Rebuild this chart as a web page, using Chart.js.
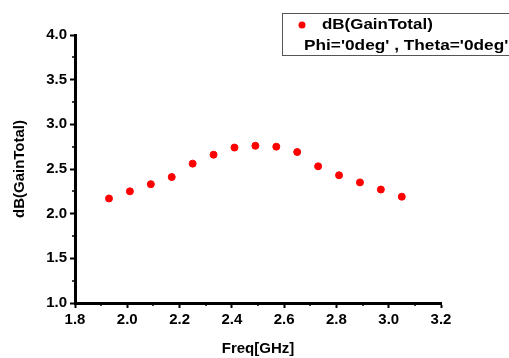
<!DOCTYPE html>
<html>
<head>
<meta charset="utf-8">
<script src="https://cdn.jsdelivr.net/npm/chart.js@4/dist/chart.umd.min.js"></script>
<style>
	html, body { margin: 0; padding: 0; background: #fff; }
	#grafico { display: block; }
</style>
</head>
<body>
<canvas id="grafico" width="509" height="358"></canvas>
<script>
var frequencias = [1.93, 2.01, 2.09, 2.17, 2.25, 2.33, 2.41, 2.49, 2.57, 2.65, 2.73, 2.81, 2.89, 2.97, 3.05];
var ganhos = [2.17, 2.25, 2.33, 2.41, 2.56, 2.66, 2.74, 2.76, 2.75, 2.69, 2.53, 2.43, 2.35, 2.27, 2.19];
var legendaSerie = 'dB(GainTotal)';
var legendaSub = "Phi='0deg' , Theta='0deg'";
var tituloX = 'Freq[GHz]';
var tituloY = 'dB(GainTotal)';

var fonte = '"Liberation Sans", Arial, sans-serif';

var pontos = frequencias.map(function(f, i) {
	return { x: f, y: ganhos[i] };
});

// minor ticks and the legend box
var extras = {
	id: 'extras',
	afterDraw: function(chart) {
		var ctx = chart.ctx;
		var sx = chart.scales.x;
		var sy = chart.scales.y;
		var area = chart.chartArea;
		ctx.save();
		ctx.strokeStyle = '#000';
		ctx.lineWidth = 1.5;
		for (var v = 1.9; v < 3.2; v += 0.2) {
			var px = Math.round(sx.getPixelForValue(v));
			ctx.beginPath();
			ctx.moveTo(px, area.bottom);
			ctx.lineTo(px, area.bottom + 3);
			ctx.stroke();
		}
		for (var w = 1.25; w < 4; w += 0.5) {
			var py = Math.round(sy.getPixelForValue(w));
			ctx.beginPath();
			ctx.moveTo(area.left, py);
			ctx.lineTo(area.left - 3, py);
			ctx.stroke();
		}

		// legend
		ctx.strokeStyle = '#555';
		ctx.lineWidth = 1;
		ctx.strokeRect(282.5, 13.5, 240, 42);
		ctx.fillStyle = '#ff0000';
		ctx.beginPath();
		ctx.arc(302, 25, 3.5, 0, Math.PI * 2);
		ctx.fill();
		ctx.fillStyle = '#000';
		ctx.font = 'bold 15px ' + fonte;
		ctx.textBaseline = 'middle';
		ctx.textAlign = 'left';
		ctx.save();
		ctx.translate(322, 25);
		ctx.scale(1.13, 1);
		ctx.fillText(legendaSerie, 0, 0);
		ctx.restore();
		ctx.save();
		ctx.translate(304, 46);
		ctx.scale(1.15, 1);
		ctx.fillText(legendaSub, 0, 0);
		ctx.restore();
		ctx.restore();
	}
};

var grafico = new Chart(document.getElementById('grafico'), {
	type: 'scatter',
	data: {
		datasets: [
			{
				label: legendaSerie,
				data: pontos,
				backgroundColor: '#ff0000',
				borderColor: '#ff0000',
				pointRadius: 3.5,
				pointHoverRadius: 3.5,
				showLine: false
			}
		]
	},
	options: {
		responsive: false,
		animation: false,
		events: [],
		layout: { padding: { top: 35, right: 68, left: 0, bottom: 0 } },
		plugins: {
			legend: { display: false },
			tooltip: { enabled: false }
		},
		scales: {
			x: {
				type: 'linear',
				min: 1.8,
				max: 3.2,
				afterFit: function(scale) { scale.height = 55; },
				border: { display: true, color: '#000', width: 3 },
				grid: { drawOnChartArea: false, drawTicks: true, tickLength: 5, tickWidth: 2, tickColor: '#000' },
				ticks: {
					stepSize: 0.2,
					padding: 3,
					color: '#000',
					font: { family: fonte, size: 15, weight: 'bold' },
					callback: function(v) { return v.toFixed(1); }
				},
				title: {
					display: true,
					text: tituloX,
					color: '#000',
					font: { family: fonte, size: 15, weight: 'bold' },
					padding: { top: 6, bottom: 0 }
				}
			},
			y: {
				type: 'linear',
				min: 1,
				max: 4,
				afterFit: function(scale) { scale.width = 75; },
				border: { display: true, color: '#000', width: 3 },
				grid: { drawOnChartArea: false, drawTicks: true, tickLength: 5, tickWidth: 2, tickColor: '#000' },
				ticks: {
					stepSize: 0.5,
					padding: 3,
					color: '#000',
					font: { family: fonte, size: 15, weight: 'bold' },
					callback: function(v) { return v.toFixed(1); }
				},
				title: {
					display: true,
					text: tituloY,
					color: '#000',
					font: { family: fonte, size: 15, weight: 'bold' },
					padding: { top: 11, bottom: 0 }
				}
			}
		}
	},
	plugins: [extras]
});
</script>
</body>
</html>
